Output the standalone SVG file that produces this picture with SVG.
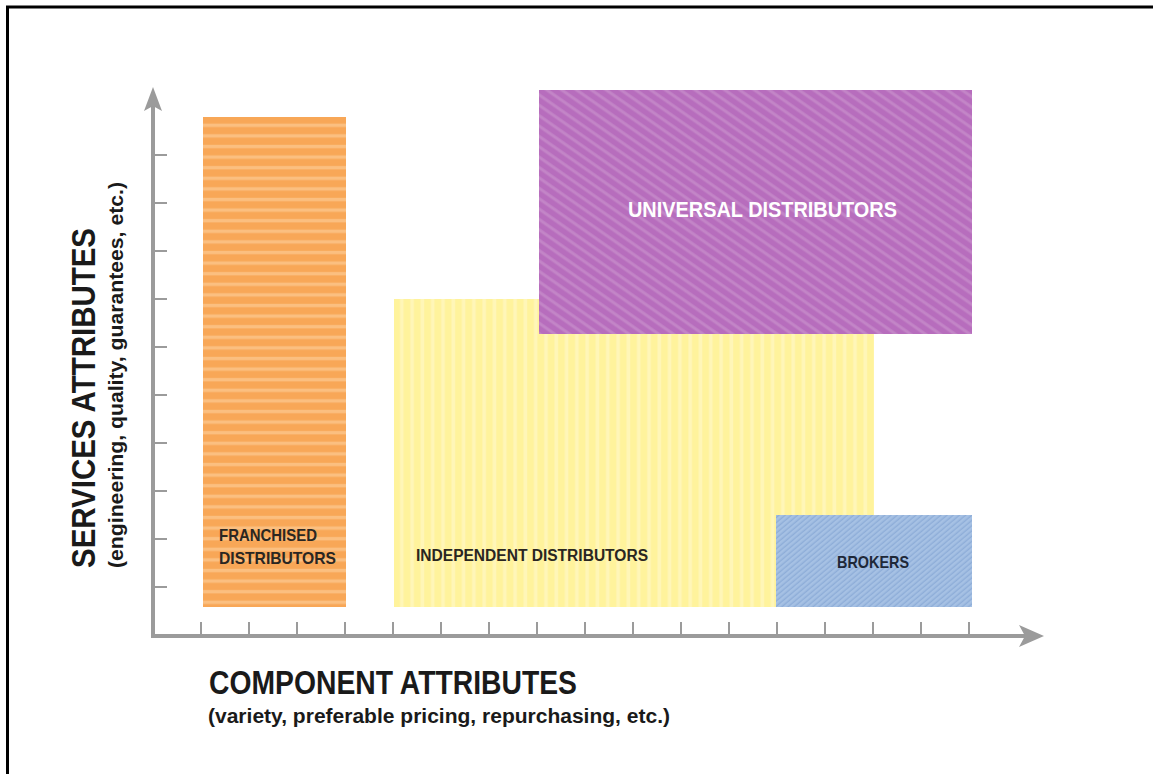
<svg xmlns="http://www.w3.org/2000/svg" width="1153" height="774" viewBox="0 0 1153 774">
  <style>
    .axis { stroke: #9b9b9b; stroke-width: 4; fill: none; }
    .tick { stroke: #9b9b9b; stroke-width: 2; fill: none; }
    .head { fill: #9b9b9b; }
    .lbl { font-family: "Liberation Sans", Arial, sans-serif; font-weight: bold; }
    .dark { fill: #2a2622; }
  </style>
  <defs>
    <pattern id="pOrange" width="20" height="10.6" patternUnits="userSpaceOnUse" y="117">
      <rect width="20" height="10.6" fill="#f8a757"/>
      <rect y="6.6" width="20" height="3.4" fill="#fbbf80"/>
    </pattern>
    <pattern id="pYellow" width="10.3" height="20" patternUnits="userSpaceOnUse" x="394">
      <rect width="10.3" height="20" fill="#fff39c"/>
      <rect x="6" width="3.6" height="20" fill="#fff6b8"/>
    </pattern>
    <pattern id="pPurple" width="20" height="8.5" patternUnits="userSpaceOnUse" patternTransform="rotate(35)">
      <rect width="20" height="8.5" fill="#b76dbd"/>
      <rect y="5" width="20" height="3" fill="#c385c7"/>
    </pattern>
    <pattern id="pBlue" width="10" height="4" patternUnits="userSpaceOnUse" patternTransform="rotate(-40)">
      <rect width="10" height="4" fill="#a6c1e4"/>
      <rect y="2.6" width="10" height="1.4" fill="#8eadd8"/>
    </pattern>
  </defs>

  <rect width="1153" height="774" fill="#ffffff"/>
  <!-- frame -->
  <path d="M7.5,774 V7 H1153" fill="none" stroke="#000" stroke-width="3"/>

  <!-- category boxes -->
  <g id="franchised">
    <rect x="203" y="117" width="143" height="490" fill="url(#pOrange)"/>
    <text class="lbl dark" x="219" y="541" font-size="17" textLength="98" lengthAdjust="spacingAndGlyphs">FRANCHISED</text>
    <text class="lbl dark" x="219" y="564" font-size="17" textLength="117" lengthAdjust="spacingAndGlyphs">DISTRIBUTORS</text>
  </g>
  <g id="independent">
    <rect x="394" y="299" width="480" height="308" fill="url(#pYellow)"/>
    <text class="lbl dark" x="416" y="561" font-size="16" textLength="232" lengthAdjust="spacingAndGlyphs">INDEPENDENT DISTRIBUTORS</text>
  </g>
  <g id="universal">
    <rect x="539" y="90" width="433" height="244" fill="url(#pPurple)"/>
    <text class="lbl" x="628" y="217" font-size="22" fill="#ffffff" textLength="269" lengthAdjust="spacingAndGlyphs">UNIVERSAL DISTRIBUTORS</text>
  </g>
  <g id="brokers">
    <rect x="776" y="515" width="196" height="92" fill="url(#pBlue)"/>
    <text class="lbl" x="837" y="568" font-size="17" fill="#1e2838" textLength="72" lengthAdjust="spacingAndGlyphs">BROKERS</text>
  </g>

  <!-- axes -->
  <g id="connectors">
    <line class="axis" x1="153" y1="104" x2="153" y2="638"/>
    <line class="axis" x1="151" y1="636" x2="1028" y2="636"/>
    <polygon class="head" points="153,87 162,111 153,106 144,111"/>
    <polygon class="head" points="1044,636 1019,625 1025,636 1019,647"/>
    <g class="tick">
      <line x1="153" y1="155" x2="167" y2="155"/>
      <line x1="153" y1="203" x2="167" y2="203"/>
      <line x1="153" y1="251" x2="167" y2="251"/>
      <line x1="153" y1="299" x2="167" y2="299"/>
      <line x1="153" y1="347" x2="167" y2="347"/>
      <line x1="153" y1="395" x2="167" y2="395"/>
      <line x1="153" y1="443" x2="167" y2="443"/>
      <line x1="153" y1="491" x2="167" y2="491"/>
      <line x1="153" y1="539" x2="167" y2="539"/>
      <line x1="153" y1="587" x2="167" y2="587"/>
      <line x1="201" y1="622" x2="201" y2="636"/>
      <line x1="249" y1="622" x2="249" y2="636"/>
      <line x1="297" y1="622" x2="297" y2="636"/>
      <line x1="345" y1="622" x2="345" y2="636"/>
      <line x1="393" y1="622" x2="393" y2="636"/>
      <line x1="441" y1="622" x2="441" y2="636"/>
      <line x1="489" y1="622" x2="489" y2="636"/>
      <line x1="537" y1="622" x2="537" y2="636"/>
      <line x1="585" y1="622" x2="585" y2="636"/>
      <line x1="633" y1="622" x2="633" y2="636"/>
      <line x1="681" y1="622" x2="681" y2="636"/>
      <line x1="729" y1="622" x2="729" y2="636"/>
      <line x1="777" y1="622" x2="777" y2="636"/>
      <line x1="825" y1="622" x2="825" y2="636"/>
      <line x1="873" y1="622" x2="873" y2="636"/>
      <line x1="921" y1="622" x2="921" y2="636"/>
      <line x1="969" y1="622" x2="969" y2="636"/>
    </g>
  </g>

  <!-- axis titles -->
  <g id="x-title">
    <text class="lbl" x="209" y="694" font-size="33" fill="#1a1a1a" textLength="368" lengthAdjust="spacingAndGlyphs">COMPONENT ATTRIBUTES</text>
    <text class="lbl" x="208" y="723" font-size="20" fill="#1a1a1a" textLength="462" lengthAdjust="spacingAndGlyphs">(variety, preferable pricing, repurchasing, etc.)</text>
  </g>
  <g id="y-title">
    <text class="lbl" transform="translate(95,568) rotate(-90)" font-size="33" fill="#1a1a1a" textLength="340" lengthAdjust="spacingAndGlyphs">SERVICES ATTRIBUTES</text>
    <text class="lbl" transform="translate(123,568) rotate(-90)" font-size="20" fill="#1a1a1a" textLength="386" lengthAdjust="spacingAndGlyphs">(engineering, quality, guarantees, etc.)</text>
  </g>
</svg>
